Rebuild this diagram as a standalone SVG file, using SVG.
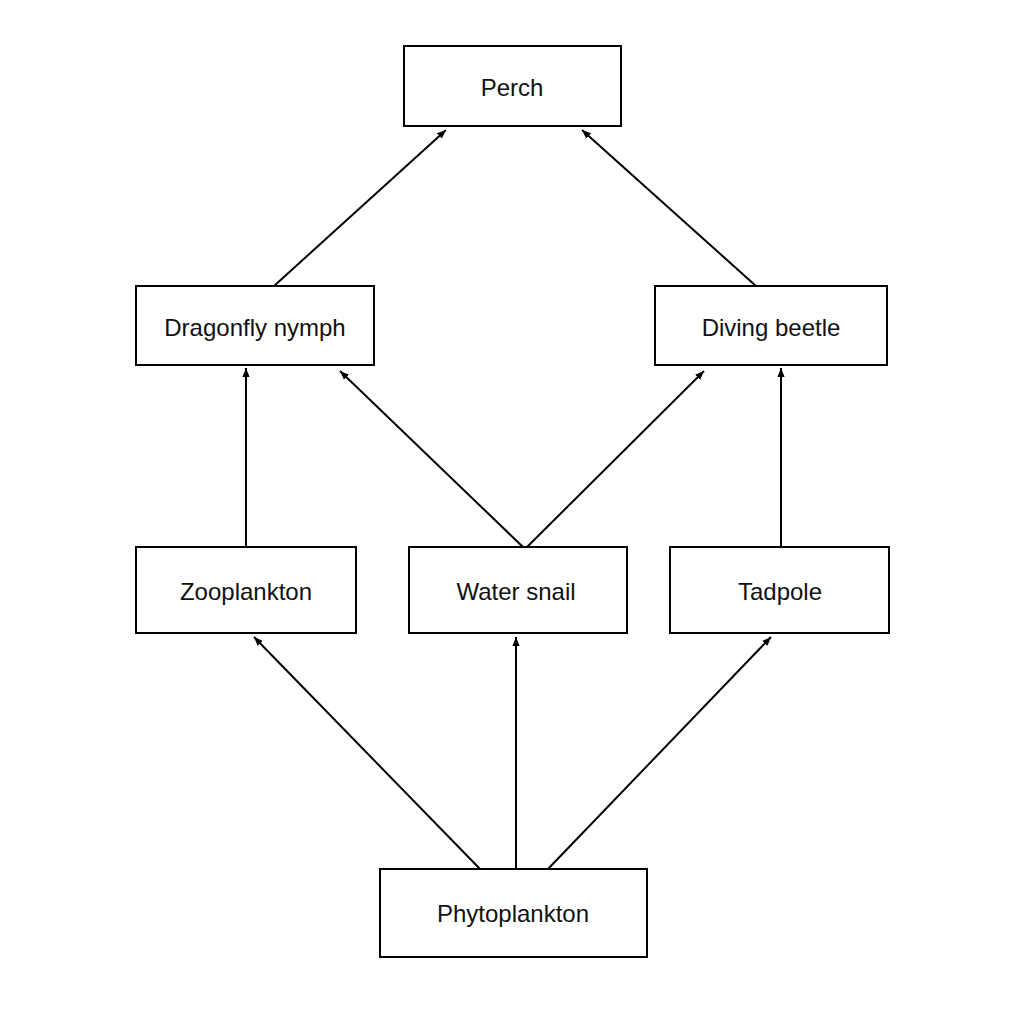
<svg xmlns="http://www.w3.org/2000/svg" width="1024" height="1024" viewBox="0 0 1024 1024">
<style>
.box{fill:#fff;stroke:#000;stroke-width:2}
.lbl{font-family:"Liberation Sans",Arial,sans-serif;font-size:24px;fill:#111;text-anchor:middle;dominant-baseline:central}
.c{stroke:#000;stroke-width:2;fill:none;marker-end:url(#a)}
</style>
<defs><marker id="a" viewBox="0 0 10 10" refX="10" refY="5" markerWidth="9" markerHeight="9" markerUnits="userSpaceOnUse" orient="auto"><path d="M0,1 L10,5 L0,9 Z" fill="#000"/></marker></defs>
<rect width="1024" height="1024" fill="#fff"/>
<g id="connectors">
<line class="c" x1="274" y1="286" x2="446" y2="130"/>
<line class="c" x1="756" y1="286" x2="582" y2="130"/>
<line class="c" x1="246" y1="547" x2="246" y2="368"/>
<line class="c" x1="523" y1="547" x2="340" y2="371"/>
<line class="c" x1="527" y1="547" x2="704" y2="371"/>
<line class="c" x1="781" y1="547" x2="781" y2="368"/>
<line class="c" x1="480" y1="869" x2="254" y2="637"/>
<line class="c" x1="516" y1="869" x2="516" y2="637"/>
<line class="c" x1="548" y1="869" x2="771" y2="637"/>
</g>
<g id="perch"><rect class="box" x="404" y="46" width="217" height="80"/><text class="lbl" x="512" y="87">Perch</text></g>
<g id="dragonfly"><rect class="box" x="136" y="286" width="238" height="79"/><text class="lbl" x="255" y="327">Dragonfly nymph</text></g>
<g id="beetle"><rect class="box" x="655" y="286" width="232" height="79"/><text class="lbl" x="771" y="327">Diving beetle</text></g>
<g id="zooplankton"><rect class="box" x="136" y="547" width="220" height="86"/><text class="lbl" x="246" y="591">Zooplankton</text></g>
<g id="snail"><rect class="box" x="409" y="547" width="218" height="86"/><text class="lbl" x="516" y="591">Water snail</text></g>
<g id="tadpole"><rect class="box" x="670" y="547" width="219" height="86"/><text class="lbl" x="780" y="591">Tadpole</text></g>
<g id="phyto"><rect class="box" x="380" y="869" width="267" height="88"/><text class="lbl" x="513" y="913">Phytoplankton</text></g>
</svg>
